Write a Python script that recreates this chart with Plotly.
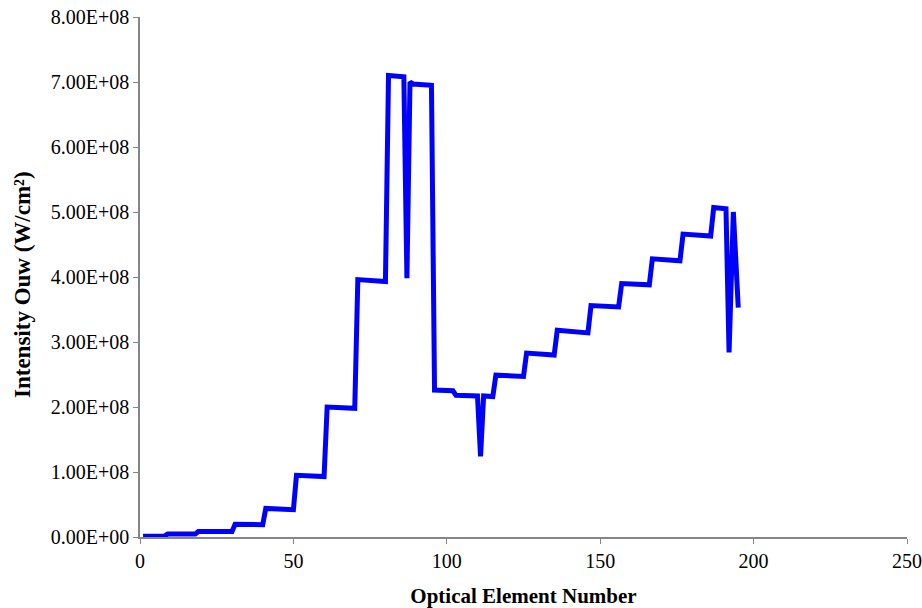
import plotly.graph_objects as go

element = [1, 8, 9, 18, 19, 30, 31, 40, 41, 50, 51, 60, 61, 70, 71, 80, 81, 86, 87, 88, 89,
           95, 96, 102, 103, 110, 111, 112, 115, 116, 125, 126, 135, 136, 146, 147, 156, 157,
           166, 167, 176, 177, 186, 187, 191, 192, 193.4, 195]
intensity = [0.01e8, 0.015e8, 0.045e8, 0.045e8, 0.085e8, 0.085e8, 0.195e8, 0.19e8, 0.44e8, 0.42e8,
             0.95e8, 0.93e8, 2.0e8, 1.98e8, 3.96e8, 3.93e8, 7.1e8, 7.08e8, 3.98e8, 7.0e8, 6.97e8,
             6.95e8, 2.26e8, 2.25e8, 2.18e8, 2.17e8, 1.24e8, 2.17e8, 2.16e8, 2.49e8, 2.47e8, 2.83e8,
             2.8e8, 3.18e8, 3.14e8, 3.56e8, 3.54e8, 3.9e8, 3.88e8, 4.28e8, 4.25e8, 4.66e8, 4.63e8,
             5.07e8, 5.05e8, 2.84e8, 5.0e8, 3.53e8]

x_ticks = [0, 50, 100, 150, 200, 250]
y_ticks = [0, 1e8, 2e8, 3e8, 4e8, 5e8, 6e8, 7e8, 8e8]
y_labels = [f"{v:.2E}" for v in y_ticks]

fig = go.Figure(go.Scatter(x=element, y=intensity, mode="lines",
                           line=dict(color="#0000FF", width=5)))

font = "Liberation Serif, Times New Roman, serif"
axis_common = dict(showgrid=False, zeroline=False, showline=True, linecolor="#868686",
                   linewidth=1.5, ticks="outside", ticklen=5, tickcolor="#868686",
                   automargin=False,
                   tickfont=dict(family=font, size=20, color="black"))

fig.update_layout(
    width=922, height=608,
    margin=dict(l=140, r=15, t=17, b=71),
    plot_bgcolor="white", paper_bgcolor="white",
    showlegend=False,
    xaxis=dict(range=[0, 250], tickvals=x_ticks, **axis_common,
               title=dict(text="<b>Optical Element Number</b>", font=dict(family=font, size=21, color="black"),
                          standoff=20)),
    yaxis=dict(range=[0, 8e8], tickvals=y_ticks, ticktext=y_labels, **axis_common),
    annotations=[dict(text="<b>Intensity Ouw (W/cm²)</b>", textangle=-90,
                      xref="paper", yref="paper", x=(22 - 140) / 767, y=(537 - 285) / 520,
                      xanchor="center", yanchor="middle", showarrow=False,
                      font=dict(family=font, size=23, color="black"))],
)

fig.write_html("out.html")
